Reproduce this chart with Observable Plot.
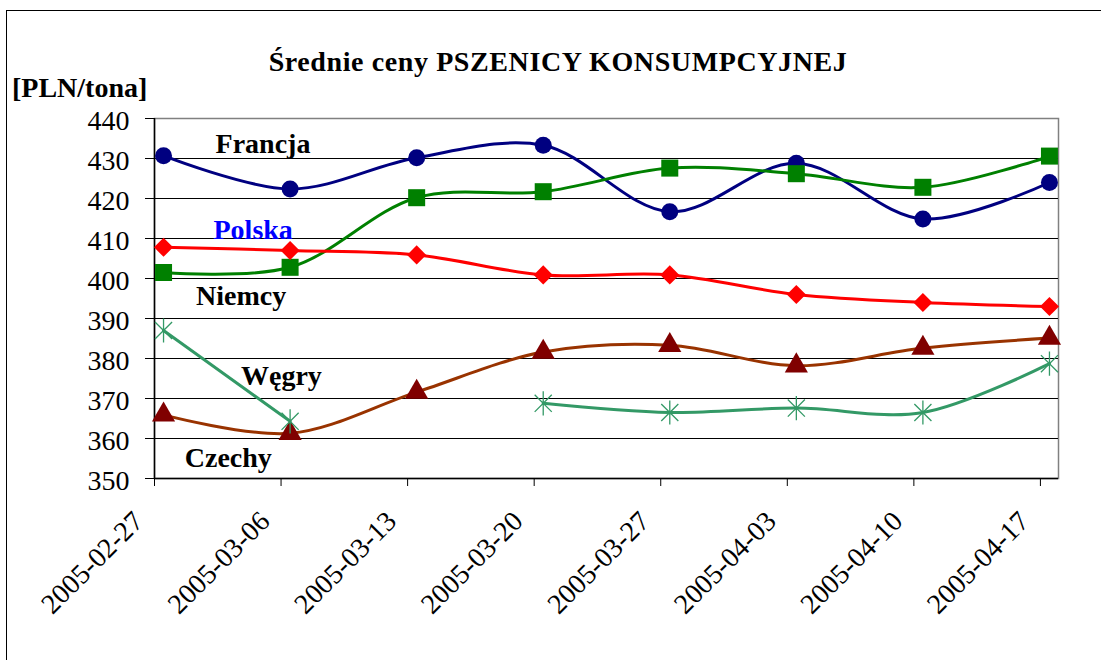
<!DOCTYPE html>
<html><head><meta charset="utf-8">
<script src="https://cdn.jsdelivr.net/npm/d3@7"></script>
<script src="https://cdn.jsdelivr.net/npm/@observablehq/plot@0.6"></script>
<style>
html,body{margin:0;padding:0;background:#fff;}
#wrap{position:relative;width:1101px;height:660px;overflow:hidden;font-family:"Liberation Serif",serif;}
#border{position:absolute;left:6px;top:10px;width:1300px;height:900px;border:1.5px solid #000;box-sizing:border-box;}
#title{position:absolute;left:0;width:1116px;top:46px;text-align:center;font-family:"Liberation Serif",serif;font-weight:bold;font-size:28px;letter-spacing:0.6px;color:#000;white-space:nowrap;}
#unit{position:absolute;left:12px;top:72px;font-family:"Liberation Serif",serif;font-weight:bold;font-size:28px;color:#000;white-space:nowrap;}
#chart{position:absolute;left:0;top:0;}
</style></head>
<body>
<div id="wrap">
  <div id="border"></div>
  <div id="chart"></div>
  <div id="title">Średnie ceny PSZENICY KONSUMPCYJNEJ</div>
  <div id="unit">[PLN/tona]</div>
</div>
<script>
const dates = ["2005-02-27","2005-03-06","2005-03-13","2005-03-20","2005-03-27","2005-04-03","2005-04-10","2005-04-17"];
const francja = [430.7, 422.4, 430.2, 433.3, 416.7, 428.8, 414.9, 424.0];
const polska  = [401.5, 402.8, 420.2, 421.7, 427.6, 426.2, 422.8, 430.6];
const niemcy  = [407.8, 407.0, 405.9, 400.9, 400.9, 396.0, 394.0, 393.0];
const wegry   = [365.9, 361.3, 371.6, 381.6, 383.3, 378.2, 382.6, 385.1];
const czechy  = [387.0, 364.3, null, 368.8, 366.5, 367.6, 366.5, 378.7];
const yTicks = [350,360,370,380,390,400,410,420,430,440];
const labelNames = ["Francja","Polska","Niemcy","Węgry","Czechy"];
const labelX = ["2005-03-05T00:00Z","2005-03-04T11:00Z","2005-03-03T19:00Z","2005-03-06T00:30Z","2005-03-03T02:00Z"];
const labelY = [431.3, 409.9, 393.5, 373.3, 352.8];
const labelColors = ["#000","#0000FF","#000","#000","#000"];

const FONT = "Liberation Serif, Times New Roman, serif";
const mid = s => new Date(s + "T12:00:00Z");
const day = s => new Date(s + "T00:00:00Z");
const mk = vals => dates.map((d,i)=>({x: mid(d), y: vals[i]}));

const star = {draw(ctx, size){ const r = Math.sqrt(size)*0.62; const q = r*0.7071;
  ctx.moveTo(0,-r); ctx.lineTo(0,r);
  ctx.moveTo(-q,-q); ctx.lineTo(q,q);
  ctx.moveTo(-q,q); ctx.lineTo(q,-q);}};

const series = [
  {data: mk(francja), line:"#000080", fill:"#000080", symbol:"circle", r:8.5},
  {data: mk(polska), line:"#008000", fill:"#008000", symbol:"square", r:9.6},
  {data: mk(niemcy), line:"#FF0000", fill:"#FF0000", symbol:"diamond2", r:8.6},
  {data: mk(wegry), line:"#993300", fill:"#800000", symbol:"triangle", r:8.6},
];
const cz = mk(czechy);
const labels = labelNames.map((n,i)=>({name:n, x:new Date(labelX[i]), y:labelY[i], c:labelColors[i]}));
const xTicks = dates.map(day);

const marks = [
  Plot.frame({stroke:"#808080", strokeWidth:1.5}),
  Plot.ruleY(yTicks.slice(1,-1), {stroke:"#000", strokeWidth:1}),
  Plot.axisY({ticks:yTicks, tickSize:9, tickFormat:()=>"", stroke:"#000", label:null}),
  Plot.axisY({ticks:yTicks, tickSize:0, tickPadding:25, dy:3, fontSize:28, fontFamily:FONT, fill:"#000", label:null}),
  Plot.axisX({ticks:xTicks, tickSize:8, tickFormat:()=>"", stroke:"#000", label:null}),
  Plot.axisX({ticks:xTicks, tickFormat: d3.utcFormat("%Y-%m-%d"), tickRotate:-45, tickSize:0, tickPadding:38, dx:-16, fontSize:28, fontFamily:FONT, label:null, fill:"#000"}),
  Plot.ruleX([day(dates[0])], {stroke:"#000", strokeWidth:1.5}),
  Plot.ruleY([350], {stroke:"#000", strokeWidth:1.5}),
];
for (const s of series) {
  marks.push(Plot.line(s.data, {x:"x", y:"y", stroke:s.line, strokeWidth:3, curve:"catmull-rom"}));
}
marks.push(Plot.line(cz, {x:"x", y:"y", stroke:"#339966", strokeWidth:3, curve:"catmull-rom"}));
for (const s of series) {
  marks.push(Plot.dot(s.data, {x:"x", y:"y", symbol:()=>s.symbol, fill:s.fill, stroke:"none", r:s.r}));
}
marks.push(Plot.dot(cz.filter(d=>d.y!=null), {x:"x", y:"y", symbol:star, stroke:"#339966", strokeWidth:1.3, fill:"none", r:11}));
marks.push(Plot.text(labels, {x:"x", y:"y", text:"name", fill:"c", fontSize:28, fontFamily:FONT, fontWeight:"bold", textAnchor:"middle", lineAnchor:"bottom"}));

const chart = Plot.plot({
  width:1101, height:660,
  marginLeft:154, marginRight:43, marginTop:118, marginBottom:182,
  style:{fontFamily:FONT, background:"transparent", color:"#000", overflow:"visible"},
  x:{type:"utc", domain:[day("2005-02-27"), day("2005-04-18")]},
  y:{domain:[350,440]},
  symbol:{type:"identity"},
  marks
});
document.getElementById("chart").appendChild(chart);
</script>
</body></html>
